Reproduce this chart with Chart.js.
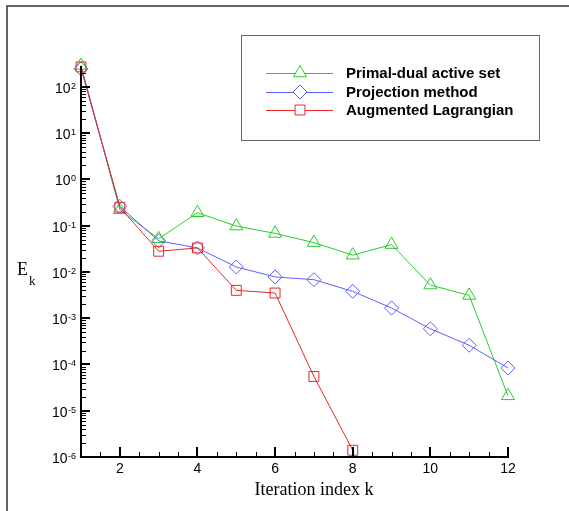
<!DOCTYPE html>
<html>
<head>
<meta charset="utf-8">
<script src="https://cdn.jsdelivr.net/npm/chart.js@4/dist/chart.umd.min.js"></script>
<style>
  body { margin: 0; background: #fff; }
  canvas { display: block; }
</style>
</head>
<body>
<canvas id="myChart" width="569" height="511"></canvas>
<script>
// iteration index
var iterations = [1, 2, 3, 4, 5, 6, 7, 8, 9, 10, 11, 12];

// E_k per method
var primalDual = [290, 0.22, 0.052, 0.19, 0.098, 0.068, 0.043, 0.023, 0.039, 0.0052, 0.0031, 2.1e-5];
var projection = [245, 0.26, 0.047, 0.033, 0.0128, 0.0078, 0.0068, 0.0038, 0.00166, 5.9e-4, 2.6e-4, 8.4e-5];
var augmented = [270, 0.25, 0.028, 0.033, 0.0040, 0.0035, 5.5e-5, 1.4e-6];

var seriesNames = ['Primal-dual active set', 'Projection method', 'Augmented Lagrangian'];

// axis ticks
var xMajorTicks = [2, 4, 6, 8, 10, 12];
var yMajorTicks = [1e-6, 1e-5, 1e-4, 1e-3, 1e-2, 1e-1, 1, 10, 100];
var yTickExp = ['-6', '-5', '-4', '-3', '-2', '-1', '0', '1', '2'];

var green = 'rgb(40,205,40)';
var blue = 'rgb(95,95,255)';
var red = 'rgb(228,40,40)';

function pts(ys) {
    return ys.map(function (y, i) { return { x: iterations[i], y: y }; });
}

var sans = '"Liberation Sans", Arial, sans-serif';
var serif = '"Liberation Serif", "Times New Roman", serif';

/* ============================================ axes, labels, legend */
var decorPlugin = {
    id: 'decor',
    afterDatasetsDraw: function (chart) {
        var ctx = chart.ctx;
        var xs = chart.scales.x;
        var ys = chart.scales.y;
        var x0 = xs.getPixelForValue(1);
        var y0 = ys.getPixelForValue(1e-6);
        var yTop = ys.getPixelForValue(ys.max);
        var xEnd = xs.getPixelForValue(12);

        ctx.save();
        ctx.strokeStyle = '#000';

        // minor y ticks
        ctx.lineWidth = 1;
        ctx.beginPath();
        for (var e = -6; e <= 2; e++) {
            for (var m = 2; m <= 9; m++) {
                var v = m * Math.pow(10, e);
                if (v > ys.max) continue;
                var py = Math.round(ys.getPixelForValue(v)) + 0.5;
                ctx.moveTo(x0, py);
                ctx.lineTo(x0 + 5, py);
            }
        }
        // minor x ticks
        for (var t = 1.5; t < 12; t += 0.5) {
            if (xMajorTicks.indexOf(t) >= 0) continue;
            var px = Math.round(xs.getPixelForValue(t)) + 0.5;
            ctx.moveTo(px, y0);
            ctx.lineTo(px, y0 - 5);
        }
        ctx.stroke();

        // major ticks
        ctx.lineWidth = 2;
        ctx.beginPath();
        yMajorTicks.forEach(function (v) {
            var py = Math.round(ys.getPixelForValue(v));
            ctx.moveTo(x0, py);
            ctx.lineTo(x0 + 9, py);
        });
        xMajorTicks.forEach(function (v) {
            var px = Math.round(xs.getPixelForValue(v));
            ctx.moveTo(px, y0);
            ctx.lineTo(px, y0 - 10);
        });
        // axis lines
        ctx.moveTo(x0, yTop);
        ctx.lineTo(x0, y0);
        ctx.lineTo(xEnd + 1, y0);
        ctx.stroke();

        // y tick labels 10^n
        ctx.fillStyle = '#000';
        ctx.textBaseline = 'alphabetic';
        yMajorTicks.forEach(function (v, i) {
            var py = ys.getPixelForValue(v);
            ctx.font = '9px ' + sans;
            ctx.textAlign = 'right';
            var ew = ctx.measureText(yTickExp[i]).width;
            ctx.fillText(yTickExp[i], 76, py + 2);
            ctx.font = '14px ' + sans;
            ctx.fillText('10', 76 - ew - 0.5, py + 6);
        });

        // x tick labels
        ctx.font = '14px ' + sans;
        ctx.textAlign = 'center';
        xMajorTicks.forEach(function (v) {
            ctx.fillText(String(v), xs.getPixelForValue(v), y0 + 16);
        });

        // axis titles
        ctx.font = '18px ' + serif;
        ctx.textAlign = 'center';
        ctx.fillText('Iteration index k', 314, 495);
        ctx.textAlign = 'left';
        ctx.fillText('E', 17, 275);
        ctx.font = '13px ' + serif;
        ctx.fillText('k', 29, 285);

        ctx.restore();
    },
    afterDraw: function (chart) {
        var ctx = chart.ctx;
        ctx.save();

        // outer frame
        ctx.strokeStyle = '#333';
        ctx.lineWidth = 1.5;
        ctx.beginPath();
        ctx.moveTo(7, 511);
        ctx.lineTo(7, 6);
        ctx.lineTo(569, 6);
        ctx.stroke();

        // legend box
        ctx.strokeStyle = '#666';
        ctx.lineWidth = 1;
        ctx.strokeRect(241.5, 35.5, 298, 105);

        var rows = [73, 92, 110];
        ctx.font = 'bold 15px ' + sans;
        ctx.textAlign = 'left';
        ctx.textBaseline = 'middle';
        chart.data.datasets.forEach(function (ds, i) {
            var y = rows[i];
            ctx.strokeStyle = ds.borderColor;
            ctx.lineWidth = 1;
            ctx.beginPath();
            ctx.moveTo(266, y + 0.5);
            ctx.lineTo(333, y + 0.5);
            ctx.stroke();
            ctx.fillStyle = '#fff';
            Chart.helpers.drawPoint(ctx, {
                pointStyle: ds.pointStyle,
                radius: ds.pointRadius,
                borderWidth: 1,
                rotation: 0
            }, 300, y);
            ctx.fillStyle = '#000';
            ctx.fillText(seriesNames[i], 346, y + 1);
        });
        ctx.restore();
    }
};

const ctx = document.getElementById('myChart').getContext('2d');
const myChart = new Chart(ctx, {
    type: 'line',
    data: {
        datasets: [{
            label: seriesNames[0],
            data: pts(primalDual),
            borderColor: green,
            pointStyle: 'triangle',
            pointRadius: 7.5,
            order: 3
        }, {
            label: seriesNames[1],
            data: pts(projection),
            borderColor: blue,
            pointStyle: 'rectRot',
            pointRadius: 7,
            order: 2
        }, {
            label: seriesNames[2],
            data: pts(augmented),
            borderColor: red,
            pointStyle: 'rect',
            pointRadius: 7,
            order: 1
        }].map(function (ds) {
            ds.borderWidth = 1;
            ds.pointBorderColor = ds.borderColor;
            ds.pointBackgroundColor = 'rgba(0,0,0,0)';
            ds.pointBorderWidth = 1;
            ds.fill = false;
            ds.tension = 0;
            ds.clip = false;
            return ds;
        })
    },
    options: {
        responsive: false,
        devicePixelRatio: 1,
        animation: false,
        layout: {
            padding: { left: 81, right: 61, top: 66, bottom: 54 }
        },
        plugins: {
            legend: { display: false },
            tooltip: { enabled: false }
        },
        scales: {
            x: {
                type: 'linear',
                min: 1,
                max: 12,
                display: false
            },
            y: {
                type: 'logarithmic',
                min: 1e-6,
                max: 282,
                display: false
            }
        }
    },
    plugins: [decorPlugin]
});
</script>
</body>
</html>
